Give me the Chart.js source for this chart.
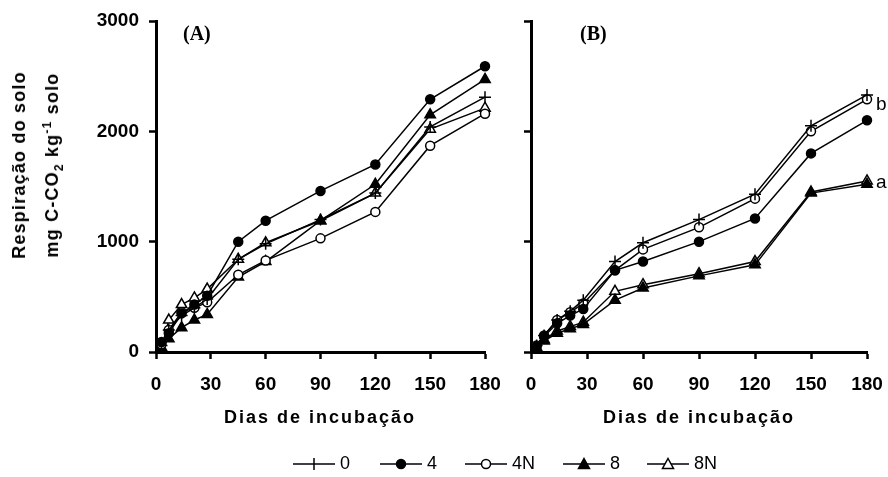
<!DOCTYPE html>
<html>
<head>
<meta charset="utf-8">
<script src="https://cdn.jsdelivr.net/npm/chart.js@4.4.1/dist/chart.umd.min.js"></script>
<style>
  body { margin: 0; background: #fff; }
  #page { position: relative; width: 888px; height: 477px; overflow: hidden; font-family: "Liberation Sans", Arial, sans-serif; color: #000; }
  .wrap { position: absolute; top: 0; }
  #wrapA { left: 0; width: 500px; height: 477px; }
  #wrapB { left: 500px; width: 388px; height: 477px; }
  #ytitle { position: absolute; left: 36px; top: 165px; transform: translate(-50%, -50%) rotate(-90deg);
    text-align: center; white-space: nowrap; font-weight: bold; font-size: 18px; line-height: 33px; letter-spacing: 1.2px; }
  #ytitle sub, #ytitle sup { font-size: 12px; line-height: 0; }
  .xtitle { position: absolute; top: 407px; transform: translateX(-50%); white-space: nowrap; font-weight: bold; font-size: 18px; letter-spacing: 2px; }
  .panel { position: absolute; top: 22px; font-family: "Liberation Serif", "Times New Roman", serif; font-weight: bold; font-size: 20px; }
  #legend { position: absolute; top: 453px; left: 293px; white-space: nowrap; font-size: 18px; }
  #legend span.item { position: absolute; top: 0; display: flex; align-items: center; }
  #legend svg { margin-right: 5px; }
</style>
</head>
<body>
<div id="page">
  <div class="wrap" id="wrapA"><canvas id="chartA" width="500" height="477"></canvas></div>
  <div class="wrap" id="wrapB"><canvas id="chartB" width="388" height="477"></canvas></div>
  <div id="ytitle">Respiração do solo<br>mg C-CO<sub>2</sub> kg<sup>-1</sup> solo</div>
  <div class="xtitle" style="left:320px">Dias de incubação</div>
  <div class="xtitle" style="left:699px">Dias de incubação</div>
  <div class="panel" style="left:183px">(A)</div>
  <div class="panel" style="left:580px">(B)</div>
  <div id="legend"></div>
</div>
<script>
// Days of incubation
const days = [3, 7, 14, 21, 28, 45, 60, 90, 120, 150, 180];
const xTicks = [0, 30, 60, 90, 120, 150, 180];
const yTicks = [0, 1000, 2000, 3000];
const seriesNames = ['0', '4', '4N', '8', '8N'];

// Panel A (mg C-CO2 / kg soil)
const a0  = [60, 200, 330, 400, 480, 840, 980, 1200, 1440, 2040, 2310];
const a4  = [90, 170, 350, 430, 510, 1000, 1190, 1460, 1700, 2290, 2590];
const a4N = [70, 200, 360, 400, 450, 700, 830, 1030, 1270, 1870, 2160];
const a8  = [40, 120, 220, 290, 340, 680, 820, 1190, 1520, 2150, 2470];
const a8N = [30, 290, 430, 490, 570, 840, 990, 1190, 1440, 2020, 2210];

// Panel B
const b0  = [60, 150, 290, 370, 470, 820, 990, 1200, 1430, 2050, 2330];
const b4  = [50, 140, 260, 330, 390, 740, 820, 1000, 1210, 1800, 2100];
const b4N = [60, 150, 290, 360, 440, 740, 930, 1130, 1390, 2000, 2290];
const b8  = [30, 100, 170, 210, 250, 470, 580, 690, 790, 1440, 1520];
const b8N = [40, 110, 190, 230, 270, 550, 610, 710, 820, 1450, 1550];

// group letters at the end of panel B
const groupLabels = [
  { text: 'b', series: [b0, b4N, b4] },
  { text: 'a', series: [b8, b8N] }
];

const markers = [
  { style: 'cross', radius: 6, fill: '#000' },
  { style: 'circle', radius: 4.5, fill: '#000' },
  { style: 'circle', radius: 4.5, fill: '#fff' },
  { style: 'triangle', radius: 6, fill: '#000' },
  { style: 'triangle', radius: 6, fill: '#fff' }
];

function makeSets(list) {
  return list.map((vals, i) => ({
    label: seriesNames[i],
    data: days.map((d, j) => ({ x: d, y: vals[j] })),
    borderColor: '#000',
    borderWidth: 1.5,
    pointStyle: markers[i].style,
    pointRadius: markers[i].radius,
    pointBackgroundColor: markers[i].fill,
    pointBorderColor: '#000',
    pointBorderWidth: 1.5,
    tension: 0,
    clip: false
  }));
}

const tickFont = { family: '"Liberation Sans", Arial, sans-serif', size: 19, weight: 'bold' };

// keep the plot area fixed: no extra room for overhanging tick labels
function noPad(s) {
  s.paddingLeft = 0; s.paddingRight = 0; s.paddingTop = 0; s.paddingBottom = 0;
}

function makeScales(showY, yWidth) {
  return {
    x: {
      type: 'linear', min: 0, max: 180,
      afterBuildTicks: s => { s.ticks = xTicks.map(v => ({ value: v })); },
      ticks: { color: '#000', font: tickFont, padding: 14, maxRotation: 0, callback: v => String(v) },
      grid: { drawOnChartArea: false, tickLength: 7, tickWidth: 2.5, tickColor: '#000' },
      border: { color: '#000', width: 3 },
      afterFit: s => { s.height = 125; noPad(s); }
    },
    y: {
      type: 'linear', min: 0, max: 3000,
      afterBuildTicks: s => { s.ticks = yTicks.map(v => ({ value: v })); },
      ticks: { display: showY, color: '#000', font: tickFont, padding: 10, callback: v => String(v) },
      grid: { drawOnChartArea: false, tickLength: 7, tickWidth: 2.5, tickColor: '#000' },
      border: { color: '#000', width: 3 },
      afterFit: s => { s.width = yWidth; noPad(s); }
    }
  };
}

const groupLetters = {
  id: 'groupLetters',
  afterDatasetsDraw(chart) {
    const ctx = chart.ctx;
    const xs = chart.scales.x, ys = chart.scales.y;
    const last = days.length - 1;
    ctx.save();
    ctx.font = '19px "Liberation Sans", Arial, sans-serif';
    ctx.fillStyle = '#000';
    ctx.textBaseline = 'middle';
    groupLabels.forEach(g => {
      const avg = g.series.reduce((s, v) => s + v[last], 0) / g.series.length;
      ctx.fillText(g.text, xs.getPixelForValue(days[last]) + 9, ys.getPixelForValue(avg));
    });
    ctx.restore();
  }
};

function baseOptions(showY, yWidth, rightPad) {
  return {
    responsive: false,
    animation: false,
    layout: { autoPadding: false, padding: { left: 0, top: 21, right: rightPad, bottom: 0 } },
    plugins: { legend: { display: false }, tooltip: { enabled: false } },
    scales: makeScales(showY, yWidth)
  };
}

new Chart(document.getElementById('chartA'), {
  type: 'line',
  data: { datasets: makeSets([a0, a4, a4N, a8, a8N]) },
  options: baseOptions(true, 156, 15)
});

new Chart(document.getElementById('chartB'), {
  type: 'line',
  data: { datasets: makeSets([b0, b4, b4N, b8, b8N]) },
  options: baseOptions(false, 31, 21),
  plugins: [groupLetters]
});

// Legend (line + marker sample, then label)
const legendX = [0, 87, 172, 270, 354];
const legend = document.getElementById('legend');
seriesNames.forEach((name, i) => {
  const m = markers[i];
  let shape = '';
  if (m.style === 'cross') {
    shape = '<path d="M21 1V13" stroke="#000" stroke-width="1.5"/>';
  } else if (m.style === 'circle') {
    shape = `<circle cx="21" cy="7" r="4.5" fill="${m.fill}" stroke="#000" stroke-width="1.5"/>`;
  } else {
    shape = `<path d="M21 1.5L26.5 11.5H15.5Z" fill="${m.fill}" stroke="#000" stroke-width="1.5"/>`;
  }
  const item = document.createElement('span');
  item.className = 'item';
  item.style.left = legendX[i] + 'px';
  item.innerHTML = `<svg width="42" height="14"><path d="M0 7H42" stroke="#000" stroke-width="1.5"/>${shape}</svg>${name}`;
  legend.appendChild(item);
});
</script>
</body>
</html>
